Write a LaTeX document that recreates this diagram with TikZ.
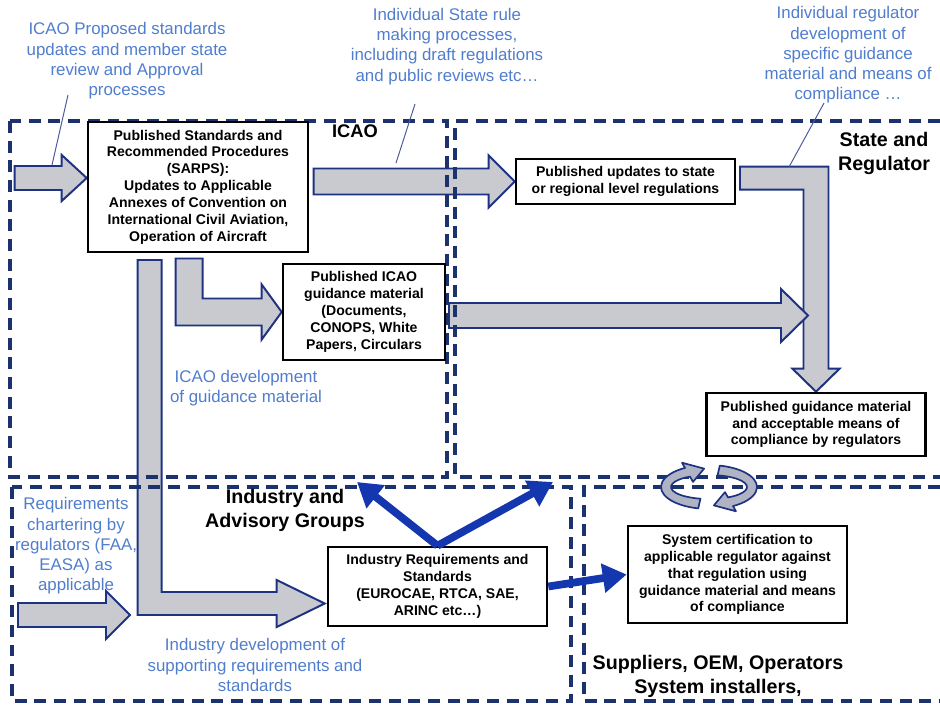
\documentclass[tikz,border=0pt]{standalone}
\usepackage{fontspec}
\setmainfont{Liberation Sans}
\usetikzlibrary{calc,arrows.meta}
\definecolor{regionnavy}{RGB}{28,50,110}
\definecolor{labelblue}{RGB}{80,125,205}
\definecolor{arrowgray}{RGB}{200,202,208}
\definecolor{arrowline}{RGB}{30,50,130}
\definecolor{flowblue}{RGB}{20,55,175}
\pgfdeclarelayer{arrowlayer}
\pgfdeclarelayer{regionlayer}
\pgfsetlayers{arrowlayer,regionlayer,main}

\tikzset{
  region/.style={regionnavy, line width=2.2pt, dash pattern=on 8.5pt off 5.5pt},
  docbox/.style={draw=black, fill=white, line width=1.8pt, align=center,
    font=\fontsize{10}{12}\selectfont\bfseries, inner sep=2pt},
  bluelabel/.style={labelblue, align=center, font=\fontsize{12}{14.4}\selectfont},
  grouptitle/.style={align=center, font=\fontsize{14}{17}\selectfont\bfseries},
  blockarrow/.style={fill=arrowgray, draw=arrowline, line width=1.4pt, line join=miter},
  leader/.style={arrowline!80, line width=0.7pt},
  flow/.style={flowblue, line width=5.5pt, -{Triangle[length=17pt,width=20pt]}},
  ribbon/.style={fill=arrowgray!85!arrowline, draw=arrowline, line width=1.2pt, line join=round}
}

\begin{document}
\begin{tikzpicture}[x=0.025cm, y=-0.025cm]
\useasboundingbox (0,0) rectangle (940,704);
\clip (0,0) rectangle (940,704);

% Document boxes
\node[docbox, minimum width=5.5cm, minimum height=3.25cm] (sarps) at (198,187)
  {Published Standards and\\Recommended Procedures\\(SARPS):\\Updates to Applicable\\Annexes of Convention on\\International Civil Aviation,\\Operation of Aircraft};
\node[docbox, minimum width=5.475cm, minimum height=1.125cm] (upd) at (625.5,181.5)
  {Published updates to state\\or regional level regulations};
\node[docbox, minimum width=4.05cm, minimum height=2.4cm] (icaog) at (364,312)
  {Published ICAO\\guidance material\\(Documents,\\CONOPS, White\\Papers, Circulars};
\node[docbox, minimum width=5.475cm, minimum height=1.575cm] (regg) at (816,424.5)
  {Published guidance material\\and acceptable means of\\compliance by regulators};
\node[docbox, minimum width=5.475cm, minimum height=1.975cm] (indreq) at (437.5,586.5)
  {Industry Requirements and\\Standards\\(EUROCAE, RTCA, SAE,\\ARINC etc…)};
\node[docbox, minimum width=5.475cm, minimum height=2.425cm] (cert) at (737.5,574.5)
  {System certification to\\applicable regulator against\\that regulation using\\guidance material and means\\of compliance};

% Group titles
\node[grouptitle, font=\fontsize{13}{16}\selectfont\bfseries] (icaotitle) at (355,131) {ICAO};
\node[grouptitle] (statetitle) at (884,153) {State and\\Regulator};
\node[grouptitle] (indtitle) at (285,510) {Industry and\\Advisory Groups};
\node[grouptitle] (suptitle) at (718,676) {Suppliers, OEM, Operators\\System installers,};

% Process labels
\node[bluelabel] (icaoproc) at (127,61) {ICAO Proposed standards\\updates and member state\\review and Approval\\processes};
\node[bluelabel] (stateproc) at (447,46.5) {Individual State rule\\making processes,\\including draft regulations\\and public reviews etc…};
\node[bluelabel] (regproc) at (848,55) {Individual regulator\\development of\\specific guidance\\material and means of\\compliance …};
\node[bluelabel] (icaodev) at (246,388) {ICAO development\\of guidance material};
\node[bluelabel] (charter) at (76,546) {Requirements\\chartering by\\regulators (FAA,\\EASA) as\\applicable};
\node[bluelabel] (inddev) at (255,665) {Industry development of\\supporting requirements and\\standards};

% Leader lines
\coordinate (icaolead) at (68,95);
\coordinate (icaoleadend) at (52,165);
\coordinate (statelead) at (415,104);
\coordinate (stateleadend) at (396,163);
\coordinate (reglead) at (824,103);
\coordinate (regleadend) at (789,167);
\draw[leader] (icaolead) -- (icaoleadend);
\draw[leader] (statelead) -- (stateleadend);
\draw[leader] (reglead) -- (regleadend);

% Block arrows
\coordinate (guidtip) at (808,315.5);
\coordinate (chartertip) at (130,615);
\begin{pgfonlayer}{arrowlayer}
\draw[blockarrow] ($(sarps.west)+(0,-9)$) -- ++(-25,-23) -- ++(0,11) -- ++(-47,0)
  -- ++(0,24) -- ++(47,0) -- ++(0,11) -- cycle;
\draw[blockarrow] (upd.west) -- ++(-26,-26) -- ++(0,13) -- ++(-175,0)
  -- ++(0,26) -- ++(175,0) -- ++(0,13) -- cycle;
\draw[blockarrow] (regg.north) -- ++(-23.5,-23) -- ++(11,0) -- ++(0,-179) -- ++(-63.5,0)
  -- ++(0,-23) -- ++(88.5,0) -- ++(0,202) -- ++(11,0) -- cycle;
\draw[blockarrow] (guidtip) -- ++(-27,-26.5) -- ++(0,14) -- ++(-332,0)
  -- ++(0,25) -- ++(332,0) -- ++(0,14) -- cycle;
\draw[blockarrow] (icaog.west) -- ++(-20,-27.5) -- ++(0,14) -- ++(-59,0) -- ++(0,-40)
  -- ++(-27,0) -- ++(0,67) -- ++(86,0) -- ++(0,14) -- cycle;
\draw[blockarrow] ($(indreq.west)+(-2,17)$) -- ++(-48,-23.5) -- ++(0,12) -- ++(-115,0)
  -- ++(0,-332) -- ++(-24,0) -- ++(0,355) -- ++(139,0) -- ++(0,12) -- cycle;
\draw[blockarrow] (chartertip) -- ++(-24,-24) -- ++(0,12) -- ++(-88,0)
  -- ++(0,24) -- ++(88,0) -- ++(0,12) -- cycle;
\end{pgfonlayer}

% Dashed regions
\begin{pgfonlayer}{regionlayer}
\draw[region] (10,121) rectangle (447,477);
\draw[region] (960,121) -- (455,121) -- (455,477) -- (960,477);
\draw[region] (12,487) rectangle (571,701);
\draw[region] (960,487) -- (584,487) -- (584,701) -- (960,701);
\end{pgfonlayer}

% Feedback loop
\coordinate (loop) at (709,487);
\draw[ribbon] (698.2,508.4) arc[start angle=257, end angle=120, x radius=1.2cm, y radius=0.55cm]
  -- (682,462.7) -- (704.1,468.6) -- (693,481.9) -- (690,476.6)
  arc[start angle=120, end angle=257, x radius=0.95cm, y radius=0.3cm] -- cycle;
\draw[ribbon] (719.8,465.6) arc[start angle=77, end angle=-60, x radius=1.2cm, y radius=0.55cm]
  -- (736,511.3) -- (713.9,505.4) -- (725,492.1) -- (728,497.4)
  arc[start angle=-60, end angle=77, x radius=0.95cm, y radius=0.3cm] -- cycle;

% Flow arrows
\coordinate (upleft) at (357,482);
\coordinate (upright) at (553,482);
\draw[flow] (indreq.north) -- (upleft);
\draw[flow] (indreq.north) -- (upright);
\draw[flow] (indreq.east) -- (cert.west);

\end{tikzpicture}
\end{document}
